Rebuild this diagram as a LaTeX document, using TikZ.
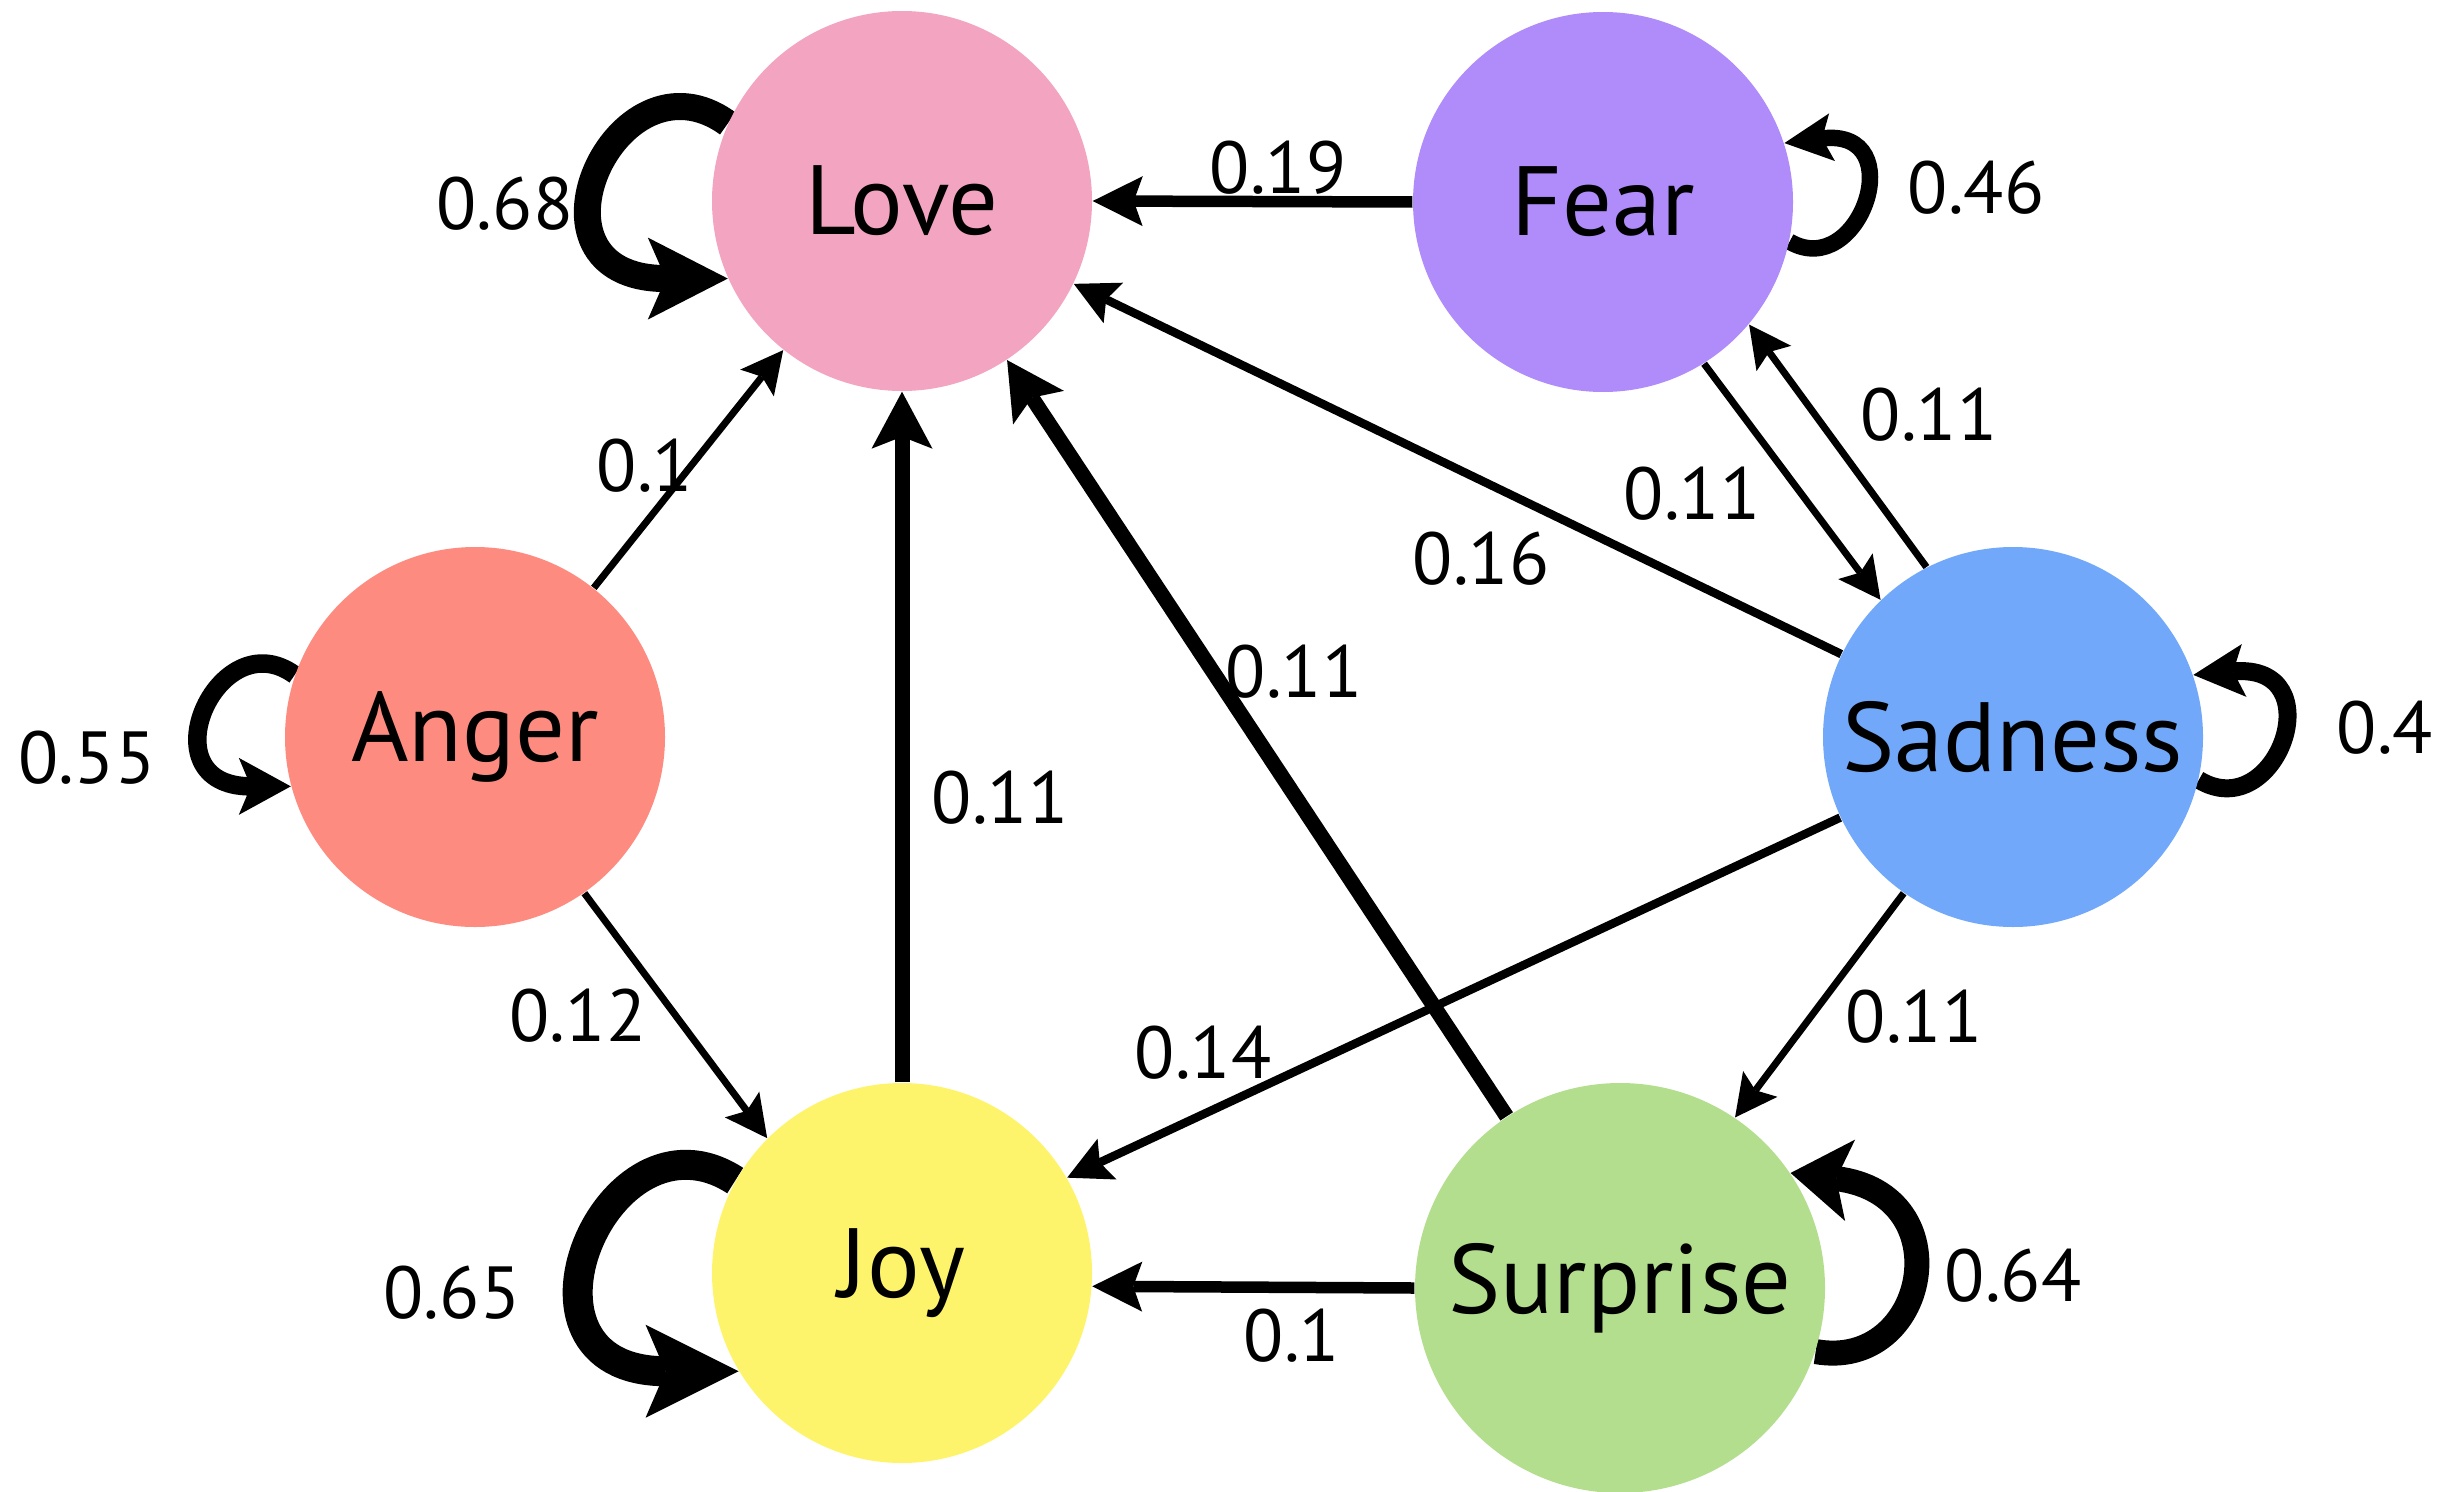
\documentclass[tikz,border=0pt]{standalone}
\usepackage{fontspec}
\setmainfont{PT Sans}
\usetikzlibrary{arrows.meta,backgrounds}

\definecolor{loveC}{HTML}{F3A4C1}
\definecolor{fearC}{HTML}{B08BFA}
\definecolor{angerC}{HTML}{FE8B80}
\definecolor{sadC}{HTML}{72A8FA}
\definecolor{joyC}{HTML}{FEF46C}
\definecolor{surpC}{HTML}{B3DE8E}

\begin{document}
\begin{tikzpicture}[font=\fontsize{21pt}{23pt}\selectfont]
    \tikzstyle{node_emo} = [circle, draw=none, inner sep=0pt, minimum size=3.8cm, font=\fontsize{28pt}{30pt}\selectfont]
    \tikzstyle{lbl} = [draw=none, inner sep=0pt]
    \tikzstyle{arrow_thin} = [black, line width=0.07cm, -{Stealth[length=0.42cm, width=0.43cm, inset=0.08cm, line width=0pt]}]
    \tikzstyle{arrow_mid} = [black, line width=0.085cm, -{Stealth[length=0.44cm, width=0.45cm, inset=0.08cm, line width=0pt]}]
    \tikzstyle{arrow_bold} = [black, line width=0.115cm, -{Stealth[length=0.5cm, width=0.5cm, inset=0.09cm, line width=0pt]}]
    \tikzstyle{arrow_heavy} = [black, line width=0.15cm, -{Stealth[length=0.57cm, width=0.61cm, inset=0.12cm, line width=0pt]}]

    \useasboundingbox (0,0) rectangle (24.6,14.91);

    \node[node_emo, fill=loveC] (nLove) at (9.02,12.90) {Love};
    \node[node_emo, fill=fearC] (nFear) at (16.03,12.89) {Fear};
    \node[node_emo, fill=angerC] (nAnger) at (4.75,7.54) {Anger};
    \node[node_emo, fill=sadC] (nSadness) at (20.13,7.54) {Sadness};
    \node[node_emo, fill=joyC] (nJoy) at (9.02,2.18) {Joy};
    \node[node_emo, fill=surpC, minimum size=4.1cm] (nSurprise) at (16.20,2.03) {Surprise};

    \begin{scope}[on background layer]
    \draw[arrow_bold] (nFear.180) -- (nLove.0);
    \draw[arrow_thin] (nAnger) -- (nLove);
    \draw[arrow_heavy] (nJoy) -- (nLove);
    \draw[arrow_heavy] (nSurprise) -- (nLove);
    \draw[arrow_mid] (nSadness) -- (nLove);
    \draw[arrow_thin] (nFear.-58) -- (nSadness.134);
    \draw[arrow_thin] (nSadness.117) -- (nFear.-40);
    \draw[arrow_thin] (nAnger.-55) -- (nJoy.135);
    \draw[arrow_mid] (nSadness.205) -- (nJoy.30);
    \draw[arrow_thin] (nSadness.235) -- (nSurprise.56);
    \draw[arrow_bold] (nSurprise.180) -- (nJoy.-4);

    % self loops
    \draw[line width=0.27cm, -{Stealth[length=0.8cm, width=0.82cm, inset=0.18cm, line width=0pt]}] (nLove.156) to[out=144, in=180, out distance=1.38cm, in distance=2.18cm] (nLove.204);
    \draw[line width=0.30cm, -{Stealth[length=0.93cm, width=0.93cm, inset=0.2cm, line width=0pt]}] (nJoy.151) to[out=147, in=180, out distance=1.53cm, in distance=2.46cm] (nJoy.211);
    \draw[line width=0.185cm, -{Stealth[length=0.52cm, width=0.57cm, inset=0.12cm, line width=0pt]}] (nAnger.161) to[out=144, in=180, out distance=0.95cm, in distance=1.47cm] (nAnger.195);
    \draw[line width=0.165cm, -{Stealth[length=0.48cm, width=0.48cm, inset=0.1cm, line width=0pt]}] (nFear.-12) to[out=-30, in=7, out distance=0.81cm, in distance=1.29cm] (nFear.18);
    \draw[line width=0.18cm, -{Stealth[length=0.51cm, width=0.53cm, inset=0.11cm, line width=0pt]}] (nSadness.-13) to[out=-31, in=5, out distance=0.91cm, in distance=1.42cm] (nSadness.19.5);
    \draw[line width=0.25cm, -{Stealth[length=0.6cm, width=0.82cm, inset=0.14cm, line width=0pt]}] (nSurprise.-18) to[out=-10, in=-7, out distance=1.14cm, in distance=1.74cm] (nSurprise.34);
    \end{scope}

    \node[lbl] (l_love) at (5.05,12.87) {0.68};
    \node[lbl] (l_fear_love) at (12.78,13.23) {0.19};
    \node[lbl] (l_fear) at (19.76,13.03) {0.46};
    \node[lbl] (l_anger_love) at (6.45,10.25) {0.1};
    \node[lbl] (l_anger) at (0.87,7.33) {0.55};
    \node[lbl] (l_joy_love) at (10.00,6.93) {0.11};
    \node[lbl] (l_surp_love) at (12.94,8.19) {0.11};
    \node[lbl] (l_sad_love) at (14.81,9.32) {0.16};
    \node[lbl] (l_fear_sad) at (16.92,9.97) {0.11};
    \node[lbl] (l_sad_fear) at (19.29,10.76) {0.11};
    \node[lbl] (l_sad) at (23.85,7.63) {0.4};
    \node[lbl] (l_anger_joy) at (5.78,4.75) {0.12};
    \node[lbl] (l_sad_joy) at (12.03,4.38) {0.14};
    \node[lbl] (l_sad_surp) at (19.14,4.74) {0.11};
    \node[lbl] (l_joy) at (4.52,1.98) {0.65};
    \node[lbl] (l_surp_joy) at (12.92,1.55) {0.1};
    \node[lbl] (l_surp) at (20.13,2.15) {0.64};

\end{tikzpicture}
\end{document}
